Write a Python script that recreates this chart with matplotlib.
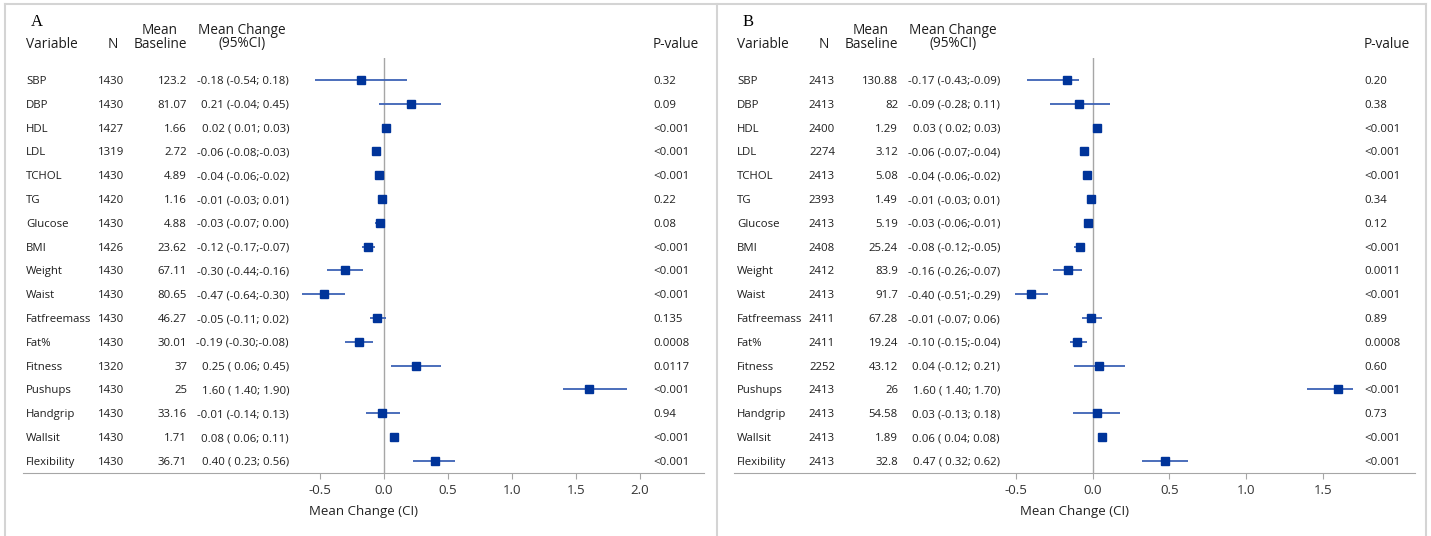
import matplotlib
matplotlib.use("Agg")
import matplotlib.pyplot as plt
from matplotlib import transforms
from matplotlib.lines import Line2D
from matplotlib.ticker import FormatStrFormatter

plt.rcParams['font.family'] = ['Open Sans', 'DejaVu Sans']
plt.rcParams['axes.unicode_minus'] = False

variables = ["SBP", "DBP", "HDL", "LDL", "TCHOL", "TG", "Glucose", "BMI", "Weight",
             "Waist", "Fatfreemass", "Fat%", "Fitness", "Pushups", "Handgrip",
             "Wallsit", "Flexibility"]

# panel A
n_a = [1430, 1430, 1427, 1319, 1430, 1420, 1430, 1426, 1430, 1430, 1430, 1430, 1320,
       1430, 1430, 1430, 1430]
base_a = [123.2, 81.07, 1.66, 2.72, 4.89, 1.16, 4.88, 23.62, 67.11, 80.65, 46.27, 30.01,
          37, 25, 33.16, 1.71, 36.71]
mean_a = [-0.18, 0.21, 0.02, -0.06, -0.04, -0.01, -0.03, -0.12, -0.30, -0.47, -0.05, -0.19,
          0.25, 1.60, -0.01, 0.08, 0.40]
lo_a = [-0.54, -0.04, 0.01, -0.08, -0.06, -0.03, -0.07, -0.17, -0.44, -0.64, -0.11, -0.30,
        0.06, 1.40, -0.14, 0.06, 0.23]
hi_a = [0.18, 0.45, 0.03, -0.03, -0.02, 0.01, 0.00, -0.07, -0.16, -0.30, 0.02, -0.08,
        0.45, 1.90, 0.13, 0.11, 0.56]
p_a = ["0.32", "0.09", "<0.001", "<0.001", "<0.001", "0.22", "0.08", "<0.001", "<0.001",
       "<0.001", "0.135", "0.0008", "0.0117", "<0.001", "0.94", "<0.001", "<0.001"]

# panel B
n_b = [2413, 2413, 2400, 2274, 2413, 2393, 2413, 2408, 2412, 2413, 2411, 2411, 2252,
       2413, 2413, 2413, 2413]
base_b = [130.88, 82, 1.29, 3.12, 5.08, 1.49, 5.19, 25.24, 83.9, 91.7, 67.28, 19.24,
          43.12, 26, 54.58, 1.89, 32.8]
mean_b = [-0.17, -0.09, 0.03, -0.06, -0.04, -0.01, -0.03, -0.08, -0.16, -0.40, -0.01, -0.10,
          0.04, 1.60, 0.03, 0.06, 0.47]
lo_b = [-0.43, -0.28, 0.02, -0.07, -0.06, -0.03, -0.06, -0.12, -0.26, -0.51, -0.07, -0.15,
        -0.12, 1.40, -0.13, 0.04, 0.32]
hi_b = [-0.09, 0.11, 0.03, -0.04, -0.02, 0.01, -0.01, -0.05, -0.07, -0.29, 0.06, -0.04,
        0.21, 1.70, 0.18, 0.08, 0.62]
p_b = ["0.20", "0.38", "<0.001", "<0.001", "<0.001", "0.34", "0.12", "<0.001", "0.0011",
       "<0.001", "0.89", "0.0008", "0.60", "<0.001", "0.73", "<0.001", "<0.001"]

ticks = [-0.5, 0.0, 0.5, 1.0, 1.5, 2.0]

W, H = 1431, 536
fig = plt.figure(figsize=(W / 100, H / 100), dpi=100)

TXT = '#1e1e1e'
GRID = '#a6a6a6'
ROW_FS = 8.2


def fx(px):
    return px / W


def fy(py):
    return 1 - py / H


def draw_panel(x0, label, n, base, mean, lo, hi, pvals, xlim, tick_list):
    ax = fig.add_axes([fx(x0 - 3), fy(473), 681 / W, (473 - 58) / H])
    rows = list(range(len(variables)))

    ax.axvline(0, color=GRID, lw=1.0, zorder=1)
    ax.hlines(rows, lo, hi, color='#3d62b5', lw=1.3, zorder=2)
    ax.plot(mean, rows, 's', color='#00349a', ms=6, zorder=3)

    ax.set_xlim(*xlim)
    ax.set_ylim(16.51, -0.924)
    ax.set_yticks([])
    ax.set_xticks(tick_list)
    ax.xaxis.set_major_formatter(FormatStrFormatter('%.1f'))
    for s in ['top', 'left', 'right']:
        ax.spines[s].set_visible(False)
    ax.spines['bottom'].set_color(GRID)
    ax.tick_params(axis='x', colors=GRID, length=4, pad=4, labelsize=9.5,
                   labelcolor='#333333')
    ax.set_xlabel('Mean Change (CI)', fontsize=9.5, color='#222222', labelpad=6)
    ax.patch.set_alpha(0)

    trans = transforms.blended_transform_factory(fig.transFigure, ax.transData)
    for i in rows:
        ci = f"{mean[i]:.2f} ({lo[i]:5.2f};{hi[i]:5.2f})"
        kw = dict(transform=trans, va='center_baseline', fontsize=ROW_FS, color=TXT)
        ax.text(fx(x0), i, variables[i], ha='left', **kw)
        ax.text(fx(x0 + 98), i, str(n[i]), ha='right', **kw)
        ax.text(fx(x0 + 161), i, f"{base[i]:g}", ha='right', **kw)
        ax.text(fx(x0 + 263), i, ci, ha='right', **kw)
        ax.text(fx(x0 + 627), i, pvals[i], ha='left', **kw)

    # headers
    fig.text(fx(x0 + 11), fy(22), label, ha='center', va='center', fontsize=12,
             family='Liberation Serif', color='black')
    hk = dict(va='center', fontsize=9.8, color=TXT)
    fig.text(fx(x0), fy(44), 'Variable', ha='left', **hk)
    fig.text(fx(x0 + 87), fy(44), 'N', ha='center', **hk)
    fig.text(fx(x0 + 134), fy(30), 'Mean', ha='center', **hk)
    fig.text(fx(x0 + 134), fy(44), 'Baseline', ha='center', **hk)
    fig.text(fx(x0 + 216), fy(30), 'Mean Change', ha='center', **hk)
    fig.text(fx(x0 + 216), fy(44), '(95%CI)', ha='center', **hk)
    fig.text(fx(x0 + 627), fy(44), 'P-value', ha='left', **hk)
    return ax


draw_panel(26, 'A', n_a, base_a, mean_a, lo_a, hi_a, p_a, (-2.816, 2.50), ticks)
draw_panel(737, 'B', n_b, base_b, mean_b, lo_b, hi_b, p_b, (-2.340, 2.102), ticks[:-1])

# panel frames
border = '#d4d4d4'
for xs, ys in [([5, 5], [4, 536]), ([5, 1426], [4, 4]), ([717, 717], [4, 536]),
               ([1426, 1426], [4, 536])]:
    fig.add_artist(Line2D([fx(x) for x in xs], [fy(y) for y in ys], color=border, lw=1.5))

fig.savefig('out.png', dpi=100)
